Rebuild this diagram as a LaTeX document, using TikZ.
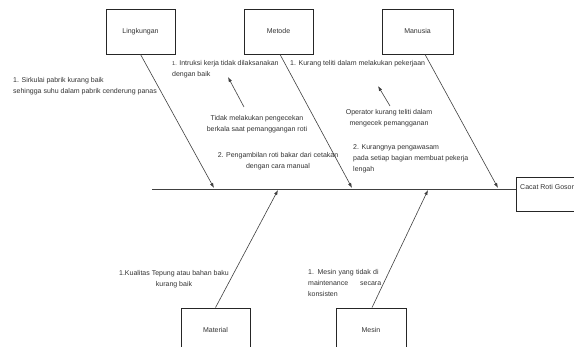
\documentclass[tikz,border=0pt]{standalone}
\usepackage{fontspec}
\setmainfont{Liberation Sans}
\usetikzlibrary{arrows.meta}
\begin{document}
\begin{tikzpicture}[x=1pt,y=-1pt,
  cause/.style={draw=black!85, line width=0.8pt, minimum width=69pt, minimum height=45pt, inner sep=0pt, font=\fontsize{7}{9}\selectfont, text=black!80},
  bone/.style={draw=black!75, line width=0.6pt, -{Latex[length=5pt,width=3.5pt]}},
  spinestyle/.style={draw=black!75, line width=0.7pt},
  note/.style={font=\fontsize{7}{11}\selectfont, text=black!80, inner sep=0pt},
]
\useasboundingbox (0,0) rectangle (574,347);
\clip (0,0) rectangle (574,347);
\fill[white] (0,0) rectangle (574,347);

% category boxes
\node[cause] (L) at (140.5,31.5) {Lingkungan};
\node[cause] (Me) at (278.5,31.5) {Metode};
\node[cause, minimum width=71pt] (Ma) at (417.5,31.5) {Manusia};
\node[cause] (Mt) at (215.5,330.5) {Material};
\node[cause, minimum width=70pt] (Ms) at (371,330.5) {Mesin};
\node[cause, minimum width=74pt, minimum height=34pt] (C) at (553,194) {};
\node[note, anchor=west] (Ct) at (520,188) {Cacat Roti Gosong};

% spine
\coordinate (s0) at (152,189);
\draw[spinestyle] (s0) -- (s0 -| C.west);

% bones
\coordinate (eL) at (214,188);
\coordinate (eMe) at (352,188);
\coordinate (eMa) at (498,188);
\coordinate (eMt) at (278,190);
\coordinate (eMs) at (428,190);
\draw[bone] (L.south) -- (eL);
\draw[bone] ([xshift=1.5pt]Me.south) -- (eMe);
\draw[bone] ([xshift=7.5pt]Ma.south) -- (eMa);
\draw[bone] (Mt.north) -- (eMt);
\draw[bone] ([xshift=1pt]Ms.north) -- (eMs);

% small arrows
\coordinate (a1s) at (244,107);
\coordinate (a1e) at (228,77);
\draw[bone] (a1s) -- (a1e);
\coordinate (a2s) at (390,106);
\coordinate (a2e) at (378,86);
\draw[bone] (a2s) -- (a2e);

% notes
\node[note, anchor=north west, align=left] (n1) at (13,77) {1. Sirkulai pabrik kurang baik\\sehingga suhu dalam pabrik cenderung panas};
\node[note, anchor=north west, align=left] (n2) at (172,60) {{\fontsize{5.5}{11}\selectfont 1.} Intruksi kerja tidak dilaksanakan\\dengan baik};
\node[note, anchor=north, align=center] (n3) at (257,115) {Tidak melakukan pengecekan\\berkala saat pemanggangan roti};
\node[note, anchor=north, align=center] (n4) at (278,152) {2. Pengambilan roti bakar dari cetakan\\dengan cara manual};
\node[note, anchor=north west, align=left] (n5) at (290,60) {1. Kurang teliti dalam melakukan pekerjaan};
\node[note, anchor=north, align=center] (n6) at (389,109) {Operator kurang teliti dalam\\mengecek pemangganan};
\node[note, anchor=north west, align=left] (n7) at (353,144) {2. Kurangnya pengawasam\\pada setiap bagian membuat pekerja\\lengah};
\node[note, anchor=north, align=center] (n8) at (174,270) {1.Kualitas Tepung atau bahan baku\\kurang baik};
\node[note, anchor=north west, align=left, text width=73pt] (n9) at (308,269) {1. Mesin yang tidak di\\maintenance\hfill secara\hspace*{4pt}\\konsisten};
\end{tikzpicture}
\end{document}
